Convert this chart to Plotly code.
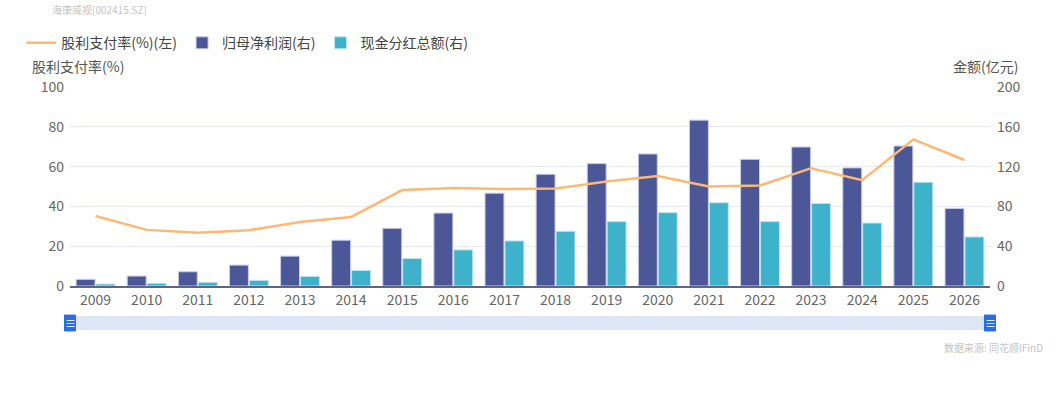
import plotly.graph_objects as go

# Data
years = ["2009", "2010", "2011", "2012", "2013", "2014", "2015", "2016", "2017",
         "2018", "2019", "2020", "2021", "2022", "2023", "2024", "2025", "2026"]
net_profit = [6.7, 10, 14.3, 21, 30, 46, 58, 73.3, 93.3,
              112.3, 123, 132.7, 166.7, 127.3, 139.7, 118.7, 140.7, 78]
cash_dividend = [2, 2.7, 3.7, 5.7, 9.7, 15.7, 27.7, 36.3, 45.3,
                 55, 64.7, 73.7, 83.7, 64.7, 83, 63.3, 104.3, 49.3]
payout_ratio = [35.2, 28.2, 26.8, 28, 32.2, 34.7, 48.2, 49.3, 48.7,
                49, 52.5, 55.3, 50, 50.5, 59.2, 53.2, 73.7, 63.3]

FONT = "Noto Sans CJK SC"
fig = go.Figure()

fig.add_trace(go.Scatter(
    x=years, y=payout_ratio, name="股利支付率(%)(左)", mode="lines",
    line=dict(color="#fdb874", width=2.5), yaxis="y2",
))
fig.add_trace(go.Bar(
    x=years, y=net_profit, name="归母净利润(右)",
    marker=dict(color="#4c5798", line=dict(color="#c9cde6", width=1)),
))
fig.add_trace(go.Bar(
    x=years, y=cash_dividend, name="现金分红总额(右)",
    marker=dict(color="#3eb2cb", line=dict(color="#bfe6ef", width=1)),
))

# slider look-alike under the plot
shapes = [
    dict(type="rect", xref="paper", yref="paper", x0=0, x1=1.002, y0=-0.221, y1=-0.151,
         fillcolor="#dde6f7", line=dict(width=0), layer="below"),
]
for hx in (0.0, 1.0):
    shapes.append(dict(type="rect", xref="paper", yref="paper",
                       x0=hx - 0.006, x1=hx + 0.006, y0=-0.226, y1=-0.146,
                       fillcolor="#2a6de0", line=dict(color="#2a6de0", width=1)))

annotations = [
    dict(text="海康威视[002415.SZ]", xref="paper", yref="paper", x=-0.022, y=1.39,
         xanchor="left", yanchor="middle", showarrow=False,
         font=dict(size=10, color="#c4c4c4")),
    dict(text="股利支付率(%)", xref="paper", yref="paper", x=-0.044, y=1.105,
         xanchor="left", yanchor="middle", showarrow=False,
         font=dict(size=14, color="#555555")),
    dict(text="金额(亿元)", xref="paper", yref="paper", x=1.033, y=1.105,
         xanchor="right", yanchor="middle", showarrow=False,
         font=dict(size=14, color="#555555")),
    dict(text="数据来源: 同花顺iFinD", xref="paper", yref="paper", x=1.06, y=-0.31,
         xanchor="right", yanchor="middle", showarrow=False,
         font=dict(size=10, color="#c4c4c4")),
]
for hx in (0.0, 1.0):
    annotations.append(dict(text="≡", xref="paper", yref="paper", x=hx, y=-0.186,
                            xanchor="center", yanchor="middle", showarrow=False,
                            font=dict(size=11, color="white")))

fig.update_layout(
    width=1061, height=400,
    margin=dict(l=70, r=71, t=87, b=114, autoexpand=False),
    paper_bgcolor="white", plot_bgcolor="white",
    font=dict(family=FONT, color="#555555"),
    barmode="group", bargap=0.22, bargroupgap=0.05,
    showlegend=True,
    legend=dict(orientation="h", x=-0.053, y=1.22, xanchor="left", yanchor="middle",
                font=dict(size=14, color="#444444"), itemwidth=30,
                traceorder="normal"),
    xaxis=dict(type="category", showgrid=False, showline=True, linecolor="#5b6590",
               linewidth=2, ticks="", tickfont=dict(size=14, color="#666666")),
    yaxis=dict(side="right", range=[0, 200], dtick=40, showgrid=True,
               gridcolor="#e6e8f4", zeroline=False, showline=False,
               ticklabelstandoff=6, tickfont=dict(size=14, color="#666666")),
    yaxis2=dict(side="left", overlaying="y", range=[0, 100], dtick=20, showgrid=False,
                zeroline=False, showline=False, ticklabelstandoff=5,
                tickfont=dict(size=14, color="#666666")),
    shapes=shapes, annotations=annotations,
)

# drop the page's default body margin so the figure sits at the window corner
fig.write_html("out.html", config={"displayModeBar": False},
               post_script="document.body.style.margin='0';")
